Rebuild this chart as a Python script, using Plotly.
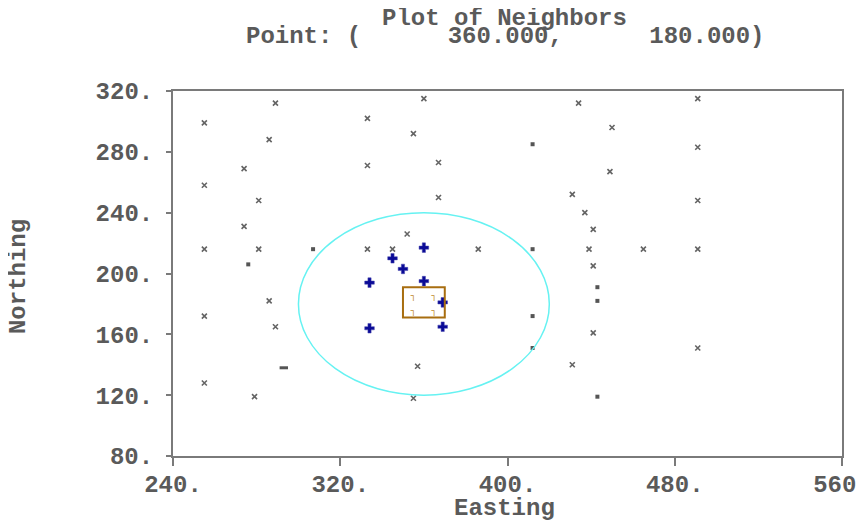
import plotly.graph_objects as go

# ---- data ----
grid_x = [255, 255, 255, 255, 255, 289, 286, 274, 281, 274, 281, 286, 289, 279,
          333, 333, 333, 345, 352, 355, 360, 367, 367, 386, 357, 355,
          434, 450, 449, 431, 437, 441, 439, 465, 491, 491, 491, 491, 441, 441, 431, 491]
grid_y = [299, 258, 216, 172, 128, 312, 288, 269, 248, 231, 216, 182, 165, 119,
          302, 271, 216, 216, 226, 292, 315, 273, 250, 216, 139, 118,
          312, 296, 267, 252, 240, 229, 216, 216, 216, 315, 283, 248, 205, 161, 140, 151]

sq_x = [276, 307, 412, 412, 412, 412, 443, 443, 443]
sq_y = [206, 216, 285, 216, 172, 151, 191, 182, 119]

dash_x = [293]
dash_y = [138]

nb_x = [345, 350, 334, 334, 360, 360, 369, 369]
nb_y = [210, 203, 194, 164, 217, 195, 181, 165]

corner_x = [355, 365, 355, 365]
corner_y = [185, 185, 175, 175]

point_x, point_y = 360.0, 180.0
search_radius = 60
box_half = 10

x_ticks = [240, 320, 400, 480, 560]
x_ticktext = ["240.", "320.", "400.", "480.", "560."]
y_ticks = [80, 120, 160, 200, 240, 280, 320]
y_ticktext = ["80.", "120.", "160.", "200.", "240.", "280.", "320."]

FONT = "Liberation Mono"
TXT = "#5a5a5a"
AX = "#7a7a7a"

fig = go.Figure()
fig.add_trace(go.Scatter(x=grid_x, y=grid_y, mode="markers",
                         marker=dict(symbol="x-thin", size=5, line=dict(width=1.6, color="#646464")),
                         hoverinfo="skip"))
fig.add_trace(go.Scatter(x=sq_x, y=sq_y, mode="markers",
                         marker=dict(symbol="square", size=4, color="#555555"), hoverinfo="skip"))
fig.add_trace(go.Scatter(x=dash_x, y=dash_y, mode="markers",
                         marker=dict(symbol="line-ew", size=6, line=dict(width=3, color="#555555")),
                         hoverinfo="skip"))
fig.add_trace(go.Scatter(x=nb_x, y=nb_y, mode="markers",
                         marker=dict(symbol="cross", size=8, color="#0a0a96",
                                     line=dict(width=0.5, color="#4a4ab0")),
                         hoverinfo="skip"))
fig.add_trace(go.Scatter(x=corner_x, y=corner_y, mode="text", text=["┐"] * 4,
                         textfont=dict(family="DejaVu Sans Mono", size=9, color="#c08a30"),
                         hoverinfo="skip"))

fig.add_shape(type="circle", xref="x", yref="y",
              x0=point_x - search_radius, x1=point_x + search_radius,
              y0=point_y - search_radius, y1=point_y + search_radius,
              line=dict(color="#66f2f2", width=1.5))
fig.add_shape(type="rect", xref="x", yref="y",
              x0=point_x - box_half, x1=point_x + box_half,
              y0=point_y - box_half + 1, y1=point_y + box_half + 1,
              line=dict(color="#a86e10", width=2))

tick_font = dict(family=FONT, size=24, color=TXT, weight="bold")
axis_common = dict(showgrid=False, zeroline=False, showline=True, linecolor=AX, linewidth=2,
                   mirror=True, ticks="outside", tickcolor=AX, tickwidth=2,
                   tickfont=tick_font, automargin=False)
fig.update_xaxes(range=[240, 560], tickvals=x_ticks, ticktext=x_ticktext, ticklen=8,
                 ticklabelstandoff=-3, ticklabeloverflow="allow", **axis_common)
fig.update_yaxes(range=[80, 320], tickvals=y_ticks, ticktext=y_ticktext, ticklen=5,
                 ticklabelstandoff=8, **axis_common)

title_font = dict(family=FONT, size=24, color=TXT, weight="bold")
nb = "\u00a0"
line2 = "Point: (" + f"{point_x:13.3f}".replace(" ", nb) + "," + f"{point_y:13.3f}".replace(" ", nb) + ")"
fig.add_annotation(text="Plot of Neighbors", xref="paper", yref="paper", x=0.496, y=1.1985,
                   showarrow=False, font=title_font, yanchor="middle")
fig.add_annotation(text=line2, xref="paper", yref="paper", x=0.496, y=1.150,
                   showarrow=False, font=title_font, yanchor="middle")
fig.add_annotation(text="Easting", xref="paper", yref="paper", x=0.496, y=-0.145,
                   showarrow=False, font=title_font, yanchor="middle")
fig.add_annotation(text="Northing", xref="paper", yref="paper", x=-0.2317, y=0.493,
                   showarrow=False, font=title_font, textangle=-90, xanchor="center", yanchor="middle")

fig.update_layout(width=858, height=512, margin=dict(l=165, r=24, t=83, b=64),
                  paper_bgcolor="white", plot_bgcolor="white", showlegend=False)
fig.write_html("out.html")
